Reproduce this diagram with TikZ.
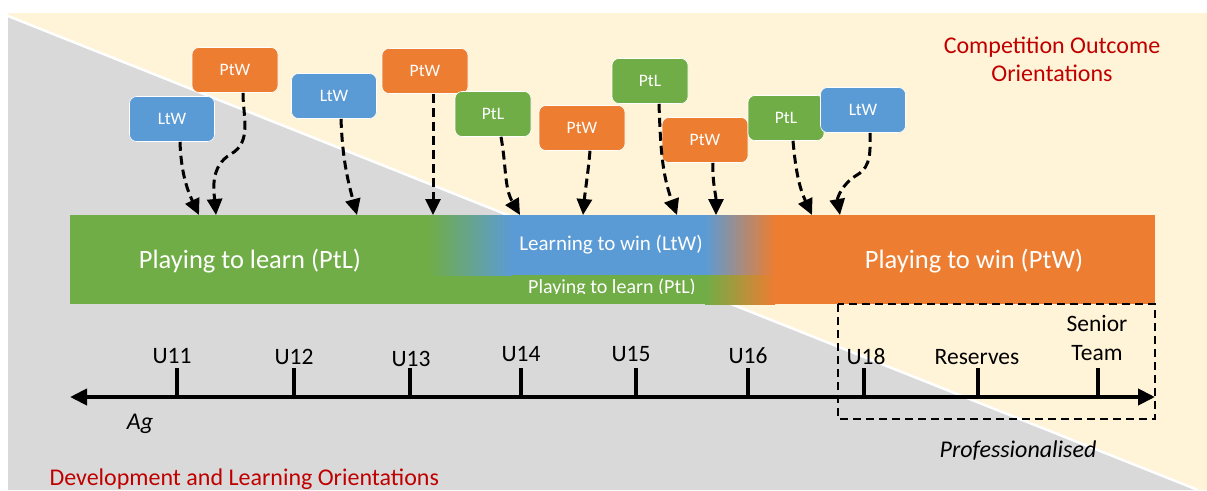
\documentclass[tikz,border=0pt]{standalone}
\usepackage{fontspec}
\setmainfont{Carlito}
\usepackage{tikz}
\usetikzlibrary{arrows.meta}
\definecolor{ptlgreen}{RGB}{112,173,71}
\definecolor{ltwblue}{RGB}{91,155,213}
\definecolor{ptworange}{RGB}{237,125,49}
\definecolor{bggray}{RGB}{217,217,217}
\definecolor{bgcream}{RGB}{255,244,216}
\definecolor{titlered}{RGB}{192,0,0}
\newcommand{\dashwidth}{3pt}
\newcommand{\headsize}{16pt}
\newcommand{\bartop}{215}

\begin{document}
\begin{tikzpicture}[x=1pt,y=-1pt,
  tag/.style={rounded corners=7pt, draw=white, line width=0.6pt, text=white, minimum height=45pt, inner sep=0pt, font=\fontsize{17.5}{20}\selectfont},
  ptltag/.style={tag, fill=ptlgreen, minimum width=76pt},
  ltwtag/.style={tag, fill=ltwblue, minimum width=85pt},
  ptwtag/.style={tag, fill=ptworange, minimum width=86pt},
  feed/.style={line width=\dashwidth, dash pattern=on 9pt off 5pt, -{Triangle[length=\headsize,width=15pt]}},
  age/.style={anchor=base, font=\fontsize{23.5}{29}\selectfont, align=center},
  tick/.style={line width=3.5pt},
  note/.style={font=\fontsize{24}{28}\selectfont\itshape}]
\useasboundingbox (0,0) rectangle (1207,490);
%background
\begin{scope}
\clip (8,13) rectangle (1207,490);
\fill[bgcream] (8,13) rectangle (1207,490);
\fill[bggray] (8,16) -- (1198,490) -- (8,490) -- cycle;
\draw[white, line width=2.5pt] (8,16) -- (1198,490);
\end{scope}
\node[text=titlered, align=center, font=\fontsize{24}{28}\selectfont] (comp) at (1052,59) {Competition Outcome\\Orientations};
\node[text=titlered, anchor=base west, font=\fontsize{24}{28}\selectfont] (dev) at (46,485) {Development and Learning Orientations};
%bar
\fill[ptlgreen] (70,\bartop) rectangle (775,304);
\shade[left color=ptlgreen, right color=ltwblue] (428,\bartop) rectangle (512,275);
\fill[ltwblue] (512,\bartop) rectangle (705,275);
\shade[left color=ltwblue, right color=ptworange] (705,\bartop) rectangle (775,275);
\shade[left color=ptlgreen, right color=ptworange] (705,275) rectangle (775,304);
\fill[ptworange] (775,\bartop) rectangle (1155,304);
\node[text=white, font=\fontsize{26.5}{30}\selectfont] (ptl) at (250,261) {Playing to learn (PtL)};
\node[text=white, font=\fontsize{26.5}{30}\selectfont] (ptw) at (974,261) {Playing to win (PtW)};
\node[text=white, font=\fontsize{21}{24}\selectfont] (ltw) at (611,245) {Learning to win (LtW)};
\begin{scope}
\clip (430,275) rectangle (775,293.5);
\node[text=white, font=\fontsize{20}{24}\selectfont, anchor=base] (ptlsub) at (612,293) {Playing to learn (PtL)};
\end{scope}
%tags
\node[ltwtag] (1) at (172,119) {LtW};
\node[ptwtag] (2) at (235,70) {PtW};
\node[ltwtag] (3) at (334,96) {LtW};
\node[ptwtag] (4) at (425,71) {PtW};
\node[ptltag] (5) at (493,114) {PtL};
\node[ptwtag] (6) at (582,128) {PtW};
\node[ptltag] (7) at (650,81) {PtL};
\node[ptwtag] (8) at (705,140) {PtW};
\node[ptltag] (9) at (786,118) {PtL};
\node[ltwtag] (10) at (863,110) {LtW};
%ends on the bar
\coordinate (e1) at (199,\bartop);
\coordinate (e2) at (216,\bartop);
\coordinate (e3) at (357,\bartop);
\coordinate (e4) at (433,\bartop);
\coordinate (e5) at (520,\bartop);
\coordinate (e6) at (583,\bartop);
\coordinate (e7) at (677,\bartop);
\coordinate (e8) at (716,\bartop);
\coordinate (e9) at (812,\bartop);
\coordinate (e10) at (840,\bartop);
\coordinate (k2) at (231,154);
\coordinate (k10) at (857,175);
\draw[feed] ([xshift=8pt]1.south) to[out=-88,in=115] (e1);
\draw[feed] ([xshift=8pt]2.south) to[out=-90,in=30] (k2) to[out=-150,in=95] (e2);
\draw[feed] ([xshift=7pt]3.south) to[out=-88,in=105] (e3);
\draw[feed] ([xshift=8pt]4.south) -- (e4);
\draw[feed] ([xshift=8pt]5.south) to[out=-80,in=120] (e5);
\draw[feed] ([xshift=8pt]6.south) to[out=-95,in=85] (e6);
\draw[feed] ([xshift=9pt]7.south) to[out=-88,in=110] (e7);
\draw[feed] ([xshift=8pt]8.south) to[out=-92,in=90] (e8);
\draw[feed] ([xshift=7pt]9.south) to[out=-85,in=115] (e9);
\draw[feed] ([xshift=7pt]10.south) to[out=-90,in=30] (k10) to[out=-150,in=100] (e10);
%age axis
\coordinate (agestart) at (70,397);
\coordinate (ageend) at (1155,397);
\draw[line width=4pt, {Triangle[length=17pt,width=16pt]}-{Triangle[length=17pt,width=16pt]}] (agestart) -- (ageend);
\draw[tick] (177,368) -- (177,397);
\draw[tick] (294,368) -- (294,397);
\draw[tick] (410,368) -- (410,397);
\draw[tick] (521,368) -- (521,397);
\draw[tick] (636,368) -- (636,397);
\draw[tick] (748,368) -- (748,397);
\draw[tick] (864,368) -- (864,397);
\draw[tick] (978,368) -- (978,397);
\draw[tick] (1098,368) -- (1098,397);
\node[age] (u11) at (172,363) {U11};
\node[age] (u12) at (294,364) {U12};
\node[age] (u13) at (411,366) {U13};
\node[age] (u14) at (521,361) {U14};
\node[age] (u15) at (631,361) {U15};
\node[age] (u16) at (748,363) {U16};
\node[age] (u18) at (866,364) {U18};
\node[age] (res) at (977,364) {Reserves};
\node[age, anchor=south] (senior) at (1097,364) {Senior\\Team};
\node[note] (ag) at (140,424) {Ag};
\draw[line width=2.2pt, dash pattern=on 8pt off 5pt] (838,304) rectangle (1155,419);
\node[note] (prof) at (1018,451) {Professionalised};
\end{tikzpicture}
\end{document}
